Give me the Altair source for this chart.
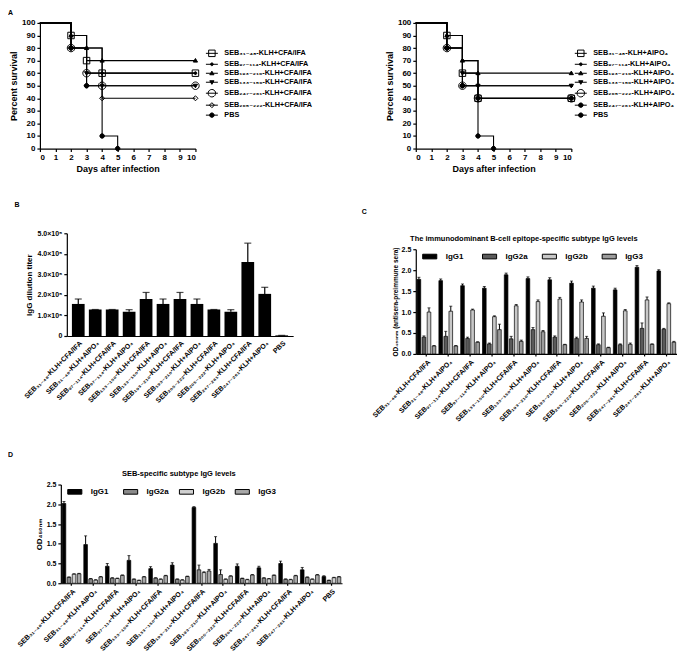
import math
import altair as alt
import pandas as pd

FONT = "Liberation Sans, DejaVu Sans"

# ---------------- Panel A : survival ----------------
a_days = [0, 2, 3, 4, 10]
a_days_pbs = [0, 2, 3, 4, 5]

a1_series = ["SEB₃₁₋₄₈-KLH+CFA/IFA", "SEB₉₇₋₁₁₄-KLH+CFA/IFA", "SEB₁₉₃₋₂₁₀-KLH+CFA/IFA",
             "SEB₁₃₃₋₁₅₀-KLH+CFA/IFA", "SEB₂₄₇₋₂₆₁-KLH+CFA/IFA", "SEB₂₀₅₋₂₂₂-KLH+CFA/IFA", "PBS"]
a1_surv = [
    [100, 90, 70, 60, 60],
    [100, 90, 80, 60, 60],
    [100, 90, 80, 70, 70],
    [100, 80, 60, 50, 50],
    [100, 80, 60, 50, 50],
    [100, 80, 50, 40, 40],
    [100, 80, 50, 10, 0],
]
a2_series = ["SEB₃₁₋₄₈-KLH+AlPO₄", "SEB₉₇₋₁₁₄-KLH+AlPO₄", "SEB₁₉₃₋₂₁₀-KLH+AlPO₄",
             "SEB₁₃₃₋₁₅₀-KLH+AlPO₄", "SEB₂₀₅₋₂₂₂-KLH+AlPO₄", "SEB₂₄₇₋₂₆₁-KLH+AlPO₄", "PBS"]
a2_surv = [
    [100, 90, 60, 40, 40],
    [100, 90, 70, 50, 50],
    [100, 90, 70, 60, 60],
    [100, 80, 60, 50, 50],
    [100, 80, 50, 40, 40],
    [100, 80, 50, 40, 40],
    [100, 80, 50, 10, 0],
]


def circ(r, n=20):
    pts = [(r * math.cos(2 * math.pi * k / n), r * math.sin(2 * math.pi * k / n)) for k in range(n)]
    return "M" + "L".join(f"{px:.3f},{py:.3f}" for px, py in pts) + "Z"


SQ = "M-0.65,-0.65H0.65V0.65H-0.65Z"
DOT = circ(0.28, 10)
TRU = "M0,-0.42L0.42,0.3H-0.42Z"
TRD = "M0,0.42L0.42,-0.3H-0.42Z"
BIG = circ(0.75)
DIA = "M0,-0.5L0.5,0L0,0.5L-0.5,0Z"
FC = circ(0.45, 14)
LN = "M-1.2,0H1.2"

a1_shapes = [SQ, DOT, TRU, TRD, BIG, DIA, FC]
a1_fills = ["transparent", "black", "black", "black", "transparent", "transparent", "black"]
a2_shapes = [SQ, DOT, TRU, TRD, BIG, FC, FC]
a2_fills = ["transparent", "black", "black", "black", "transparent", "black", "black"]

IND = dict(shape="independent", fill="independent", stroke="independent")


def spacer():
    return alt.Chart(pd.DataFrame({"v": [0]})).mark_point(opacity=0, size=1).encode(
        x=alt.X("v:Q", axis=None), y=alt.Y("v:Q", axis=None)).properties(width=1, height=1)


def survival_chart(series, surv, shapes, fills, legx):
    rows = []
    for s, vals in zip(series, surv):
        days = a_days_pbs if s == "PBS" else a_days
        for d, v in zip(days, vals):
            rows.append({"series": s, "day": d, "survival": v})
    df = pd.DataFrame(rows)
    base = alt.Chart(df)
    x = alt.X("day:Q", scale=alt.Scale(domain=[0, 10], nice=False),
              axis=alt.Axis(values=list(range(11)), title="Days after infection",
                            labelFontSize=8, titleFontSize=9, titlePadding=3))
    y = alt.Y("survival:Q", scale=alt.Scale(domain=[0, 100], nice=False),
              axis=alt.Axis(values=list(range(0, 101, 10)), title="Percent survival",
                            labelFontSize=8, titleFontSize=9, titlePadding=3, labelOverlap=False))
    lines = base.mark_line(interpolate="step-after", color="black", strokeWidth=1.1).encode(
        x=x, y=y, detail="series:N")
    pts = base.transform_filter("datum.day > 0").mark_point(
        opacity=1, stroke="black", strokeWidth=1, size=100).encode(
        x=x, y=y,
        shape=alt.Shape("series:N", scale=alt.Scale(domain=series, range=shapes), legend=None),
        fill=alt.Fill("series:N", scale=alt.Scale(domain=series, range=fills), legend=None))
    leg = alt.Legend(title=None, orient="none", legendX=legx, legendY=25,
                     labelFont=FONT, labelFontSize=7.3, labelFontWeight="bold", labelColor="black",
                     symbolSize=100, symbolStrokeColor="black", symbolStrokeWidth=1,
                     rowPadding=0, labelOffset=7, labelLimit=250)
    legend_layer = base.transform_filter("datum.day < 0").mark_point(
        opacity=1, strokeWidth=1, size=100).encode(
        x=x, y=y,
        shape=alt.Shape("series:N", scale=alt.Scale(domain=series, range=[LN + p for p in shapes]),
                        legend=leg),
        fill=alt.Fill("series:N", scale=alt.Scale(domain=series, range=fills), legend=leg),
        stroke=alt.Stroke("series:N", scale=alt.Scale(domain=series, range=["black"] * len(series)),
                          legend=leg))
    return alt.layer(lines, pts, legend_layer).resolve_scale(**IND).properties(width=156, height=126)


chart_a1 = survival_chart(a1_series, a1_surv, a1_shapes, a1_fills, 167)
chart_a2 = survival_chart(a2_series, a2_surv, a2_shapes, a2_fills, 160)

# ---------------- Panel B : IgG titer ----------------
b_groups = ["SEB₃₁₋₄₈-KLH+CFA/IFA", "SEB₃₁₋₄₈-KLH+AlPO₄", "SEB₉₇₋₁₁₄-KLH+CFA/IFA", "SEB₉₇₋₁₁₄-KLH+AlPO₄",
            "SEB₁₃₃₋₁₅₀-KLH+CFA/IFA", "SEB₁₃₃₋₁₅₀-KLH+AlPO₄", "SEB₁₉₃₋₂₁₀-KLH+CFA/IFA", "SEB₁₉₃₋₂₁₀-KLH+AlPO₄",
            "SEB₂₀₅₋₂₂₂-KLH+CFA/IFA", "SEB₂₀₅₋₂₂₂-KLH+AlPO₄", "SEB₂₄₇₋₂₆₁-KLH+CFA/IFA", "SEB₂₄₇₋₂₆₁-KLH+AlPO₄",
            "PBS"]
b_titer_e5 = [1.56, 1.29, 1.29, 1.18, 1.80, 1.56, 1.80, 1.56, 1.29, 1.18, 3.60, 2.05, 0.03]
b_err_e5 = [0.24, 0.0, 0.0, 0.10, 0.32, 0.24, 0.32, 0.24, 0.0, 0.10, 0.92, 0.32, 0.0]

df_b = pd.DataFrame({"group": b_groups, "titer": b_titer_e5, "err": b_err_e5})
df_b["top"] = df_b["titer"] + df_b["err"]
xb = alt.X("group:N", sort=b_groups, scale=alt.Scale(paddingInner=0.25, paddingOuter=0.3),
           axis=alt.Axis(title=None, labelAngle=-45, ticks=False, labelFontSize=7, labelPadding=3,
                         labelLimit=200))
yb_axis = alt.Axis(values=[0, 1, 2, 3, 4, 5], labelFontSize=7, labelOverlap=False,
                   labelExpr="datum.value == 0 ? '0' : format(datum.value, '.1f') + '×10⁵'",
                   title="IgG dilution titer", titleFontSize=8, titlePadding=4)
yscale_b = alt.Scale(domain=[0, 5], nice=False)
base_b = alt.Chart(df_b)
chart_b = alt.layer(
    base_b.mark_bar(color="black").encode(
        x=xb, y=alt.Y("titer:Q", scale=yscale_b, axis=yb_axis)),
    base_b.mark_rule(color="black", strokeWidth=1.2).encode(
        x=xb, y=alt.Y("titer:Q", scale=yscale_b, axis=yb_axis), y2="top:Q"),
    base_b.mark_tick(color="black", thickness=1.2, size=7).encode(
        x=xb, y=alt.Y("top:Q", scale=yscale_b, axis=yb_axis)),
).properties(width=227, height=103,
             title=alt.Title("B", anchor="start", fontSize=7, offset=21, frame="bounds", dx=-8))

# ---------------- Panel C / D : subtype IgG ----------------
subtypes = ["IgG1", "IgG2a", "IgG2b", "IgG3"]
sub_fills_c = ["#000000", "#5a5a5a", "#c8c8c8", "#9c9c9c"]
sub_fills_d = ["#000000", "#8a8a8a", "#d0d0d0", "#a8a8a8"]

c_groups = b_groups[:12]
c_igg1 = [1.78, 1.75, 1.63, 1.57, 1.89, 1.80, 1.77, 1.69, 1.57, 1.53, 2.07, 1.98]
c_igg1_err = [0.05, 0.04, 0.04, 0.04, 0.04, 0.04, 0.05, 0.05, 0.05, 0.04, 0.04, 0.03]
c_igg2a = [0.40, 0.42, 0.37, 0.24, 0.36, 0.58, 0.40, 0.37, 0.22, 0.22, 0.61, 0.59]
c_igg2a_err = [0.03, 0.12, 0.03, 0.02, 0.06, 0.05, 0.03, 0.03, 0.02, 0.02, 0.13, 0.02]
c_igg2b = [1.00, 1.02, 1.05, 0.89, 1.15, 1.25, 1.31, 1.24, 0.90, 1.03, 1.29, 1.20]
c_igg2b_err = [0.10, 0.12, 0.02, 0.02, 0.03, 0.04, 0.04, 0.05, 0.08, 0.03, 0.07, 0.02]
c_igg3 = [0.19, 0.19, 0.28, 0.58, 0.30, 0.53, 0.22, 0.37, 0.15, 0.23, 0.23, 0.28]
c_igg3_err = [0.01, 0.01, 0.01, 0.13, 0.03, 0.03, 0.01, 0.05, 0.01, 0.03, 0.01, 0.02]

d_groups = b_groups
d_igg1 = [2.02, 0.98, 0.43, 0.58, 0.37, 0.46, 1.92, 1.01, 0.43, 0.39, 0.50, 0.34, 0.17]
d_igg1_err = [0.05, 0.22, 0.07, 0.12, 0.05, 0.06, 0.02, 0.17, 0.06, 0.04, 0.06, 0.06, 0.02]
d_igg2a = [0.15, 0.11, 0.13, 0.10, 0.13, 0.10, 0.34, 0.22, 0.12, 0.13, 0.10, 0.15, 0.07]
d_igg2a_err = [0.01, 0.01, 0.01, 0.01, 0.01, 0.01, 0.12, 0.12, 0.01, 0.01, 0.01, 0.01, 0.01]
d_igg2b = [0.23, 0.08, 0.12, 0.07, 0.10, 0.08, 0.27, 0.10, 0.09, 0.11, 0.09, 0.10, 0.14]
d_igg2b_err = [0.01, 0.01, 0.01, 0.01, 0.01, 0.01, 0.02, 0.01, 0.01, 0.01, 0.01, 0.01, 0.01]
d_igg3 = [0.24, 0.16, 0.20, 0.16, 0.19, 0.17, 0.31, 0.18, 0.21, 0.20, 0.19, 0.21, 0.16]
d_igg3_err = [0.01, 0.01, 0.01, 0.01, 0.01, 0.01, 0.04, 0.01, 0.01, 0.01, 0.01, 0.01, 0.01]

RECT = "M-1,-0.33H1V0.33H-1Z"


def subtype_chart(groups, vals, errs, fills, width, height, ytitle, ytsize, title, toff, legx, colpad):
    rows = []
    for st, v, e in zip(subtypes, vals, errs):
        for g, vv, ee in zip(groups, v, e):
            rows.append({"group": g, "subtype": st, "od": vv, "top": vv + ee})
    df = pd.DataFrame(rows)
    base = alt.Chart(df)
    x = alt.X("group:N", sort=groups, scale=alt.Scale(paddingInner=0.14, paddingOuter=0.06),
              axis=alt.Axis(title=None, labelAngle=-45, ticks=True, tickSize=2, labelFontSize=7,
                            labelPadding=2, labelLimit=200))
    xo = alt.XOffset("subtype:N", sort=subtypes, scale=alt.Scale(paddingInner=0.28))
    ysc = alt.Scale(domain=[0, 2.5], nice=False)
    yax = alt.Axis(values=[0, 0.5, 1.0, 1.5, 2.0, 2.5], format=".1f", labelFontSize=7,
                   labelOverlap=False, title=ytitle, titleFontSize=ytsize, titlePadding=3)
    leg = alt.Legend(title=None, orient="none", legendX=legx, legendY=-1, direction="horizontal",
                     symbolType=RECT, symbolSize=200, symbolStrokeColor="black", symbolStrokeWidth=1,
                     labelFont=FONT, labelFontSize=8, labelFontWeight="bold", labelColor="black",
                     labelOffset=8, columnPadding=colpad, gridAlign="all")
    bars = base.mark_bar(stroke="black", strokeWidth=0.7).encode(
        x=x, xOffset=xo, y=alt.Y("od:Q", scale=ysc, axis=yax),
        fill=alt.Fill("subtype:N", sort=subtypes, scale=alt.Scale(domain=subtypes, range=fills),
                      legend=leg))
    rule = base.mark_rule(color="black", strokeWidth=1).encode(
        x=x, xOffset=xo, y=alt.Y("od:Q", scale=ysc, axis=yax), y2="top:Q")
    cap = base.mark_tick(color="black", thickness=1, size=3).encode(
        x=x, xOffset=xo, y=alt.Y("top:Q", scale=ysc, axis=yax))
    return alt.layer(bars, rule, cap).properties(
        width=width, height=height,
        title=alt.Title(title, fontSize=7.5, anchor="middle", frame="bounds", offset=toff))


chart_c = subtype_chart(c_groups, [c_igg1, c_igg2a, c_igg2b, c_igg3],
                        [c_igg1_err, c_igg2a_err, c_igg2b_err, c_igg3_err], sub_fills_c,
                        262, 105, "OD₄₅₀ₙₘ (antisera-preimmune sera)", 6.5,
                        "The immunodominant B-cell epitope-specific subtype IgG levels", 3, 6, 11)
chart_d = subtype_chart(d_groups, [d_igg1, d_igg2a, d_igg2b, d_igg3],
                        [d_igg1_err, d_igg2a_err, d_igg2b_err, d_igg3_err], sub_fills_d,
                        282, 99, "OD₄₅₀ₙₘ", 8, "SEB-specific subtype IgG levels", 3, 6, 7)

letter = dict(anchor="start", fontSize=7, frame="bounds")
CC = dict(align="none")

inner_a = alt.concat(chart_a1, chart_a2, columns=2, spacing=72, **CC).resolve_scale(**IND)
row_a = alt.concat(spacer(), inner_a, columns=2, spacing=0,
                   title=alt.Title("A", offset=3, **letter), **CC).resolve_scale(**IND)

col_c = alt.concat(spacer(), chart_c, columns=1, spacing=0,
                   title=alt.Title("C", offset=18, dx=-9, **letter), **CC).resolve_scale(**IND)
inner_bc = alt.concat(chart_b, col_c, columns=2, spacing=68, **CC).resolve_scale(**IND)
row_bc = alt.concat(spacer(), inner_bc, columns=2, spacing=5, **CC).resolve_scale(**IND)

row_d = alt.concat(spacer(), chart_d, columns=2, spacing=6,
                   title=alt.Title("D", offset=12, **letter), **CC).resolve_scale(**IND)

chart = alt.concat(row_a, row_bc, row_d, columns=1, spacing=28, **CC).resolve_scale(
    **IND).properties(padding=0).configure(
    font=FONT
).configure_view(stroke=None).configure_axis(
    domainColor="black", tickColor="black", labelColor="black", titleColor="black",
    labelFont=FONT, titleFont=FONT, labelFontWeight="bold", titleFontWeight="bold",
    grid=False, tickSize=3, domainWidth=1.2, tickWidth=1.2
).configure_title(font=FONT, fontWeight="bold", color="black")

chart.save("out.html", embed_options={"renderer": "svg", "actions": False})
